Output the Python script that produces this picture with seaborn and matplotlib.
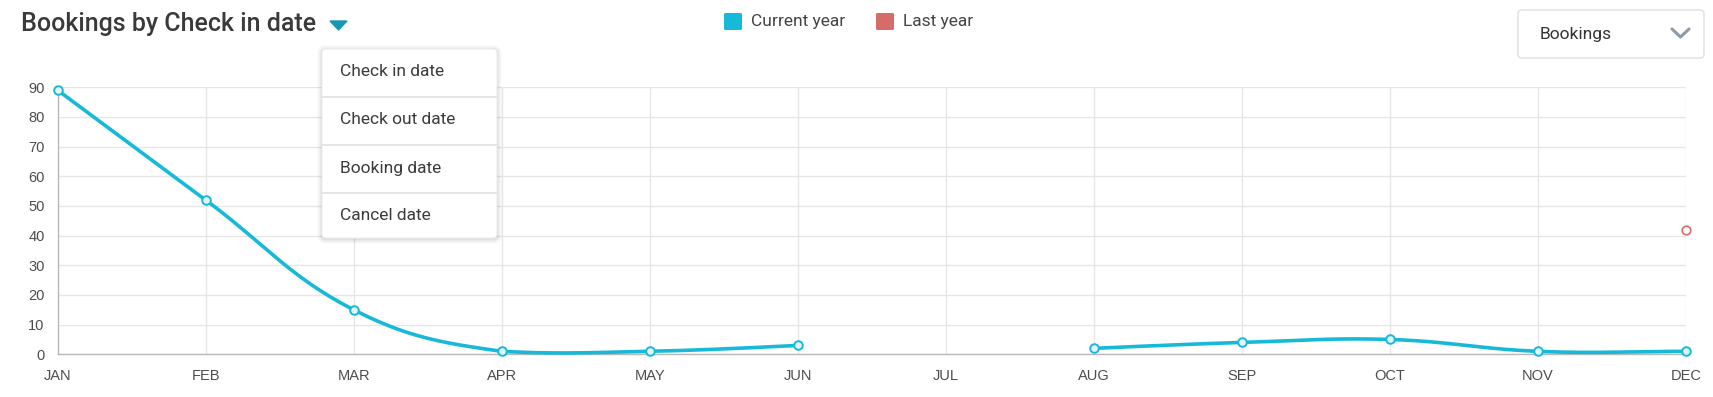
import numpy as np
import pandas as pd
import matplotlib
matplotlib.use("Agg")
import matplotlib.pyplot as plt
import seaborn as sns
from matplotlib.patches import FancyBboxPatch, Polygon

# ---------------- data ----------------
months = ["JAN", "FEB", "MAR", "APR", "MAY", "JUN", "JUL", "AUG", "SEP", "OCT", "NOV", "DEC"]
current_year = [89, 52, 15, 1, 1, 3, np.nan, 2, 4, 5, 1, 1]
last_year = [np.nan] * 11 + [42]
y_ticks = [0, 10, 20, 30, 40, 50, 60, 70, 80, 90]
title = "Bookings by Check in date"
legend_labels = ["Current year", "Last year"]
menu_items = ["Check in date", "Check out date", "Booking date", "Cancel date"]
metric_label = "Bookings"

CYAN = "#17b9d9"
RED = "#d66b68"
GRID = "#e6e6e6"
AXIS = "#b8b8b8"
TICK_TXT = "#4d4d4d"

W, H = 1713, 397
sns.set_theme(style="white")
plt.rcParams["font.family"] = ["Roboto", "DejaVu Sans"]

fig = plt.figure(figsize=(W / 100, H / 100), dpi=100)
ax = fig.add_axes([57.7 / W, 1 - 354.3 / H, (1686 - 57.7) / W, (354.3 - 87.3) / H])
ax.set_xlim(0, len(months) - 1)
ax.set_ylim(0, 90)

x_idx = np.arange(len(months))
df = pd.DataFrame({"month": months, "x": x_idx, "current": current_year, "last": last_year})

# ----- Chart.js style spline (tension 0.4) computed in pixel space -----
def spline_segments(xs, ys, tension=0.4):
    pts = ax.transData.transform(np.column_stack([xs, np.nan_to_num(ys, nan=0.0)]))
    valid = ~np.isnan(np.asarray(ys, dtype=float))
    n = len(xs)
    cp_prev = pts.copy()
    cp_next = pts.copy()
    (x0, y0), (x1, y1) = ax.transData.transform([(0, 0), (len(months) - 1, 90)])
    for i in range(n):
        if not valid[i]:
            continue
        cur = pts[i]
        if i > 0 and valid[i - 1]:
            prev = pts[i - 1]
        elif i == 0:
            prev = cur
        else:
            continue
        if i < n - 1 and valid[i + 1]:
            nxt = pts[i + 1]
        elif i == n - 1:
            nxt = cur
        else:
            continue
        d01 = np.hypot(*(cur - prev))
        d12 = np.hypot(*(nxt - cur))
        tot = d01 + d12
        s01 = d01 / tot if tot else 0
        s12 = d12 / tot if tot else 0
        cp_prev[i] = cur - tension * s01 * (nxt - prev)
        cp_next[i] = cur + tension * s12 * (nxt - prev)
    for cp in (cp_prev, cp_next):
        cp[:, 0] = np.clip(cp[:, 0], min(x0, x1), max(x0, x1))
        cp[:, 1] = np.clip(cp[:, 1], min(y0, y1), max(y0, y1))
    segs = []
    cur_seg = []
    t = np.linspace(0, 1, 60)[:, None]
    for i in range(n - 1):
        if valid[i] and valid[i + 1]:
            p0, p1, p2, p3 = pts[i], cp_next[i], cp_prev[i + 1], pts[i + 1]
            b = ((1 - t) ** 3) * p0 + 3 * ((1 - t) ** 2) * t * p1 + 3 * (1 - t) * t ** 2 * p2 + t ** 3 * p3
            cur_seg.append(b if not cur_seg else b[1:])
        else:
            if cur_seg:
                segs.append(np.vstack(cur_seg))
            cur_seg = []
    if cur_seg:
        segs.append(np.vstack(cur_seg))
    return [ax.transData.inverted().transform(s) for s in segs]

for seg in spline_segments(x_idx, np.array(current_year, dtype=float)):
    sdf = pd.DataFrame({"x": seg[:, 0], "y": seg[:, 1]})
    sns.lineplot(data=sdf, x="x", y="y", sort=False, estimator=None, color=CYAN,
                 linewidth=2.6, ax=ax, zorder=3, clip_on=False)

sns.scatterplot(data=df, x="x", y="current", s=38, color="#e4f6fb", edgecolor=CYAN,
                linewidth=1.4, ax=ax, zorder=4, clip_on=False)
sns.scatterplot(data=df, x="x", y="last", s=38, color="#ffffff", edgecolor=RED,
                linewidth=1.2, ax=ax, zorder=4, clip_on=False)

ax.set_xticks(x_idx)
ax.set_xticklabels(months)
ax.set_yticks(y_ticks)
ax.set_xlabel("")
ax.set_ylabel("")
ax.grid(True, color=GRID, linewidth=1.0)
ax.set_axisbelow(True)
for s in ["top", "right"]:
    ax.spines[s].set_visible(False)
for s in ["left", "bottom"]:
    ax.spines[s].set_color(AXIS)
    ax.spines[s].set_linewidth(1.0)
ax.tick_params(axis="both", which="major", length=7.5, width=1.0, color=GRID,
               labelcolor=TICK_TXT, labelsize=10.5)
ax.tick_params(axis="y", pad=2)
ax.tick_params(axis="x", pad=3)
for lbl in ax.get_xticklabels() + ax.get_yticklabels():
    lbl.set_fontfamily(["Liberation Sans", "DejaVu Sans"])
if ax.get_legend():
    ax.get_legend().remove()

# ---------------- UI overlay ----------------
ui = fig.add_axes([0, 0, 1, 1], zorder=10)
ui.set_xlim(0, W)
ui.set_ylim(H, 0)
ui.axis("off")
ui.patch.set_alpha(0)

ui.text(21, 24, title, fontsize=18, fontweight="medium", color="#3a3a3a", va="center", ha="left")
ui.add_patch(Polygon([(330, 21), (347, 21), (338.5, 30)], closed=True, color="#1797b4"))

for (sx, tx, col, lab) in [(724, 751, CYAN, legend_labels[0]), (876, 903, RED, legend_labels[1])]:
    ui.add_patch(FancyBboxPatch((sx, 13), 18, 17, boxstyle="round,pad=0,rounding_size=1.5",
                                facecolor=col, edgecolor="none"))
    ui.text(tx, 21.5, lab, fontsize=12.5, color="#444444", va="center", ha="left")

ui.add_patch(FancyBboxPatch((1518, 10), 186, 48, boxstyle="round,pad=0,rounding_size=4",
                            facecolor="white", edgecolor="#dcdfe6", linewidth=1.0))
ui.text(1540, 34, metric_label, fontsize=12.5, color="#333333", va="center", ha="left")
ui.plot([1672, 1680.5, 1689], [29, 37, 29], color="#8e9aa6", linewidth=2.2,
        solid_capstyle="round", solid_joinstyle="round")

mx, my, mw, mh = 322, 49, 175, 189
for k, a in enumerate([0.035, 0.03, 0.025, 0.02, 0.015]):
    g = k + 1
    ui.add_patch(FancyBboxPatch((mx - g, my - g + 1), mw + 2 * g, mh + 2 * g,
                                boxstyle="round,pad=0,rounding_size=%d" % (4 + g),
                                facecolor="black", edgecolor="none", alpha=a))
ui.add_patch(FancyBboxPatch((mx, my), mw, mh, boxstyle="round,pad=0,rounding_size=4",
                            facecolor="white", edgecolor="#ececec", linewidth=0.8))
for sy in [96.5, 144.5, 192.5]:
    ui.plot([mx, mx + mw], [sy, sy], color="#e2e2e2", linewidth=1.2)
for ty, item in zip([72, 120, 168, 216], menu_items):
    ui.text(340, ty, item, fontsize=12.5, color="#3c3c3c", va="center", ha="left")

fig.savefig("out.png", dpi=100)
